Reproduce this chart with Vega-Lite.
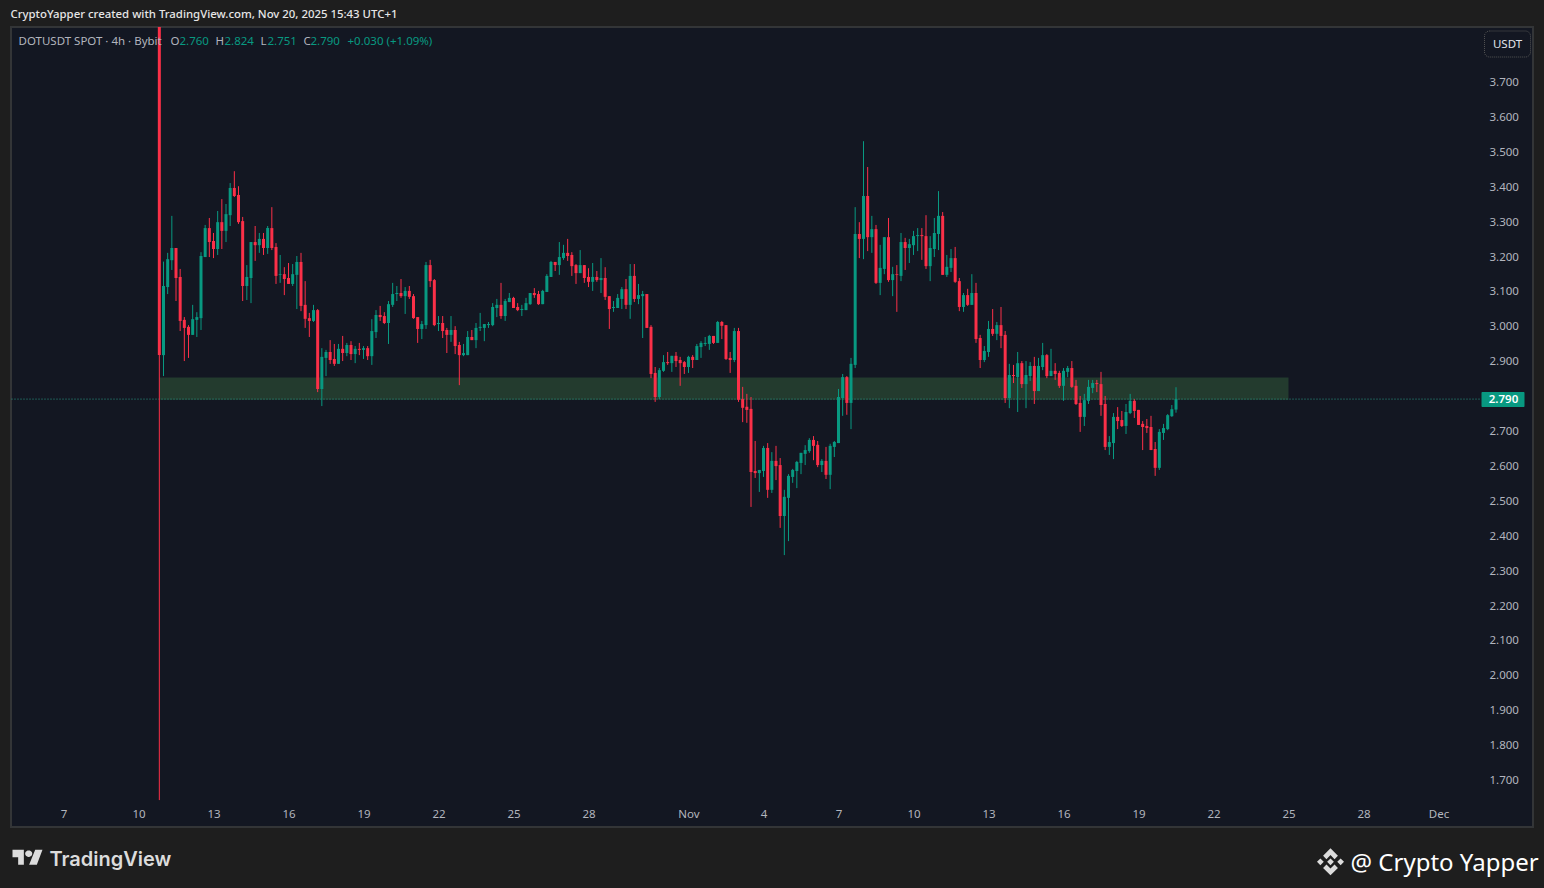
{
"$schema":"https://vega.github.io/schema/vega-lite/v6.json",
"width":1522,"height":800,
"autosize":{"type":"none"},
"padding":{"left":11,"top":27,"right":11,"bottom":61},
"background":"#1e1e1e",
"view":{"fill":"#131722","stroke":"#333537","strokeWidth":2},
"config":{"font":"Noto Sans"},
"encoding":{
"x":{"field":"t","type":"temporal","title":null,"scale":{"type":"utc","nice":false,"padding":0,"domain":["2025-10-04T21:36:00Z","2025-12-04T18:43:00Z"]},
"axis":{"values":["2025-10-07T00:00:00Z","2025-10-10T00:00:00Z","2025-10-13T00:00:00Z","2025-10-16T00:00:00Z","2025-10-19T00:00:00Z","2025-10-22T00:00:00Z","2025-10-25T00:00:00Z","2025-10-28T00:00:00Z","2025-11-01T00:00:00Z","2025-11-04T00:00:00Z","2025-11-07T00:00:00Z","2025-11-10T00:00:00Z","2025-11-13T00:00:00Z","2025-11-16T00:00:00Z","2025-11-19T00:00:00Z","2025-11-22T00:00:00Z","2025-11-25T00:00:00Z","2025-11-28T00:00:00Z","2025-12-01T00:00:00Z"],
"labelExpr":"utcdate(datum.value)==1 ? (utcmonth(datum.value)==10 ? 'Nov' : 'Dec') : ''+utcdate(datum.value)",
"grid":false,"domain":false,"ticks":false,"offset":-19,"labelPadding":0,"labelColor":"#b2b5be","labelFontSize":11.5,"labelFont":"Noto Sans","labelBaseline":"top","labelFlush":false,"labelOverlap":false,"title":null}},
"y":{"field":"p","type":"quantitative","title":null,"scale":{"nice":false,"zero":false,"domain":[1.5639,3.8562]},
"axis":{"orient":"right","values":[1.7,1.8,1.9,2.0,2.1,2.2,2.3,2.4,2.5,2.6,2.7,2.9,3.0,3.1,3.2,3.3,3.4,3.5,3.6,3.7],"format":".3f","grid":false,"domain":false,"ticks":false,"offset":-44,"labelPadding":0,"labelOffset":1,"labelColor":"#b2b5be","labelFontSize":11.5,"labelFont":"Noto Sans","labelOverlap":false,"title":null}}
},
"layer":[
{"data":{"values":[{"t":"2025-10-10T20:00:00Z","t2":"2025-11-25T00:00:00Z","p":2.852,"p2":2.788}],"format":{"parse":{"t":"date","t2":"date"}}},
"mark":{"type":"rect","fill":"#233b2e"},
"encoding":{"x2":{"field":"t2"},"y2":{"field":"p2"}}},
{"data":{"values":[{"t":"2025-10-04T22:04:48Z","t2":"2025-12-02T17:17:00Z","p":2.79}],"format":{"parse":{"t":"date","t2":"date"}}},
"mark":{"type":"rule","stroke":"#2b9a86","strokeWidth":1,"strokeDash":[1,2]},
"encoding":{"x2":{"field":"t2"}}},
{"data":{"values":[
{"t":"2025-10-10T20:00:00Z","o":3.87,"h":3.87,"l":1.641,"c":2.916},
{"t":"2025-10-11T00:00:00Z","o":2.916,"h":3.184,"l":2.856,"c":3.114},
{"t":"2025-10-11T04:00:00Z","o":3.111,"h":3.209,"l":3.091,"c":3.191},
{"t":"2025-10-11T08:00:00Z","o":3.188,"h":3.315,"l":3.16,"c":3.223},
{"t":"2025-10-11T12:00:00Z","o":3.223,"h":3.223,"l":3.071,"c":3.137},
{"t":"2025-10-11T16:00:00Z","o":3.14,"h":3.163,"l":2.985,"c":3.014},
{"t":"2025-10-11T20:00:00Z","o":3.017,"h":3.025,"l":2.899,"c":2.994},
{"t":"2025-10-12T00:00:00Z","o":2.997,"h":3.002,"l":2.908,"c":2.974},
{"t":"2025-10-12T04:00:00Z","o":2.974,"h":3.06,"l":2.974,"c":3.019},
{"t":"2025-10-12T08:00:00Z","o":3.017,"h":3.039,"l":2.968,"c":3.025},
{"t":"2025-10-12T12:00:00Z","o":3.022,"h":3.211,"l":2.988,"c":3.2},
{"t":"2025-10-12T16:00:00Z","o":3.197,"h":3.289,"l":3.197,"c":3.28},
{"t":"2025-10-12T20:00:00Z","o":3.28,"h":3.309,"l":3.197,"c":3.24},
{"t":"2025-10-13T00:00:00Z","o":3.243,"h":3.266,"l":3.194,"c":3.22},
{"t":"2025-10-13T04:00:00Z","o":3.22,"h":3.329,"l":3.203,"c":3.297},
{"t":"2025-10-13T08:00:00Z","o":3.297,"h":3.363,"l":3.22,"c":3.272},
{"t":"2025-10-13T12:00:00Z","o":3.272,"h":3.349,"l":3.24,"c":3.32},
{"t":"2025-10-13T16:00:00Z","o":3.317,"h":3.409,"l":3.286,"c":3.395},
{"t":"2025-10-13T20:00:00Z","o":3.395,"h":3.443,"l":3.369,"c":3.372},
{"t":"2025-10-14T00:00:00Z","o":3.375,"h":3.4,"l":3.292,"c":3.297},
{"t":"2025-10-14T04:00:00Z","o":3.3,"h":3.312,"l":3.071,"c":3.114},
{"t":"2025-10-14T08:00:00Z","o":3.114,"h":3.174,"l":3.074,"c":3.14},
{"t":"2025-10-14T12:00:00Z","o":3.137,"h":3.24,"l":3.065,"c":3.24},
{"t":"2025-10-14T16:00:00Z","o":3.24,"h":3.286,"l":3.186,"c":3.231},
{"t":"2025-10-14T20:00:00Z","o":3.231,"h":3.266,"l":3.209,"c":3.249},
{"t":"2025-10-15T00:00:00Z","o":3.249,"h":3.266,"l":3.203,"c":3.223},
{"t":"2025-10-15T04:00:00Z","o":3.223,"h":3.286,"l":3.206,"c":3.28},
{"t":"2025-10-15T08:00:00Z","o":3.28,"h":3.34,"l":3.217,"c":3.223},
{"t":"2025-10-15T12:00:00Z","o":3.226,"h":3.237,"l":3.12,"c":3.143},
{"t":"2025-10-15T16:00:00Z","o":3.146,"h":3.203,"l":3.123,"c":3.148},
{"t":"2025-10-15T20:00:00Z","o":3.148,"h":3.168,"l":3.088,"c":3.134},
{"t":"2025-10-16T00:00:00Z","o":3.137,"h":3.18,"l":3.12,"c":3.12},
{"t":"2025-10-16T04:00:00Z","o":3.12,"h":3.177,"l":3.114,"c":3.148},
{"t":"2025-10-16T08:00:00Z","o":3.146,"h":3.2,"l":3.048,"c":3.183},
{"t":"2025-10-16T12:00:00Z","o":3.183,"h":3.209,"l":3.042,"c":3.057},
{"t":"2025-10-16T16:00:00Z","o":3.06,"h":3.128,"l":2.994,"c":3.02},
{"t":"2025-10-16T20:00:00Z","o":3.022,"h":3.037,"l":2.968,"c":3.014},
{"t":"2025-10-17T00:00:00Z","o":3.014,"h":3.06,"l":3.011,"c":3.045},
{"t":"2025-10-17T04:00:00Z","o":3.045,"h":3.048,"l":2.81,"c":2.819},
{"t":"2025-10-17T08:00:00Z","o":2.819,"h":2.936,"l":2.77,"c":2.911},
{"t":"2025-10-17T12:00:00Z","o":2.908,"h":2.931,"l":2.856,"c":2.925},
{"t":"2025-10-17T16:00:00Z","o":2.925,"h":2.959,"l":2.891,"c":2.902},
{"t":"2025-10-17T20:00:00Z","o":2.905,"h":2.948,"l":2.885,"c":2.891},
{"t":"2025-10-18T00:00:00Z","o":2.891,"h":2.948,"l":2.891,"c":2.934},
{"t":"2025-10-18T04:00:00Z","o":2.934,"h":2.971,"l":2.899,"c":2.922},
{"t":"2025-10-18T08:00:00Z","o":2.922,"h":2.951,"l":2.913,"c":2.945},
{"t":"2025-10-18T12:00:00Z","o":2.945,"h":2.956,"l":2.902,"c":2.919},
{"t":"2025-10-18T16:00:00Z","o":2.919,"h":2.942,"l":2.893,"c":2.934},
{"t":"2025-10-18T20:00:00Z","o":2.934,"h":2.951,"l":2.916,"c":2.931},
{"t":"2025-10-19T00:00:00Z","o":2.931,"h":2.942,"l":2.905,"c":2.936},
{"t":"2025-10-19T04:00:00Z","o":2.936,"h":2.942,"l":2.902,"c":2.913},
{"t":"2025-10-19T08:00:00Z","o":2.913,"h":3.019,"l":2.888,"c":2.985},
{"t":"2025-10-19T12:00:00Z","o":2.982,"h":3.045,"l":2.965,"c":3.031},
{"t":"2025-10-19T16:00:00Z","o":3.031,"h":3.057,"l":3.014,"c":3.025},
{"t":"2025-10-19T20:00:00Z","o":3.028,"h":3.039,"l":3.005,"c":3.008},
{"t":"2025-10-20T00:00:00Z","o":3.008,"h":3.071,"l":2.948,"c":3.062},
{"t":"2025-10-20T04:00:00Z","o":3.06,"h":3.123,"l":3.054,"c":3.091},
{"t":"2025-10-20T08:00:00Z","o":3.091,"h":3.114,"l":3.071,"c":3.094},
{"t":"2025-10-20T12:00:00Z","o":3.094,"h":3.134,"l":3.08,"c":3.085},
{"t":"2025-10-20T16:00:00Z","o":3.085,"h":3.111,"l":3.034,"c":3.1},
{"t":"2025-10-20T20:00:00Z","o":3.1,"h":3.114,"l":3.077,"c":3.083},
{"t":"2025-10-21T00:00:00Z","o":3.085,"h":3.091,"l":3.02,"c":3.022},
{"t":"2025-10-21T04:00:00Z","o":3.025,"h":3.025,"l":2.951,"c":2.991},
{"t":"2025-10-21T08:00:00Z","o":2.991,"h":3.014,"l":2.962,"c":3.005},
{"t":"2025-10-21T12:00:00Z","o":3.002,"h":3.183,"l":2.991,"c":3.174},
{"t":"2025-10-21T16:00:00Z","o":3.174,"h":3.189,"l":3.111,"c":3.128},
{"t":"2025-10-21T20:00:00Z","o":3.131,"h":3.134,"l":2.999,"c":3.002},
{"t":"2025-10-22T00:00:00Z","o":3.005,"h":3.028,"l":2.985,"c":3.008},
{"t":"2025-10-22T04:00:00Z","o":3.008,"h":3.028,"l":2.965,"c":2.985},
{"t":"2025-10-22T08:00:00Z","o":2.988,"h":2.994,"l":2.922,"c":2.974},
{"t":"2025-10-22T12:00:00Z","o":2.974,"h":3.028,"l":2.954,"c":2.988},
{"t":"2025-10-22T16:00:00Z","o":2.988,"h":2.999,"l":2.919,"c":2.942},
{"t":"2025-10-22T20:00:00Z","o":2.945,"h":2.954,"l":2.83,"c":2.916},
{"t":"2025-10-23T00:00:00Z","o":2.916,"h":2.948,"l":2.913,"c":2.922},
{"t":"2025-10-23T04:00:00Z","o":2.916,"h":2.985,"l":2.916,"c":2.968},
{"t":"2025-10-23T08:00:00Z","o":2.968,"h":2.988,"l":2.959,"c":2.959},
{"t":"2025-10-23T12:00:00Z","o":2.959,"h":3.008,"l":2.936,"c":2.994},
{"t":"2025-10-23T16:00:00Z","o":2.994,"h":3.037,"l":2.985,"c":2.997},
{"t":"2025-10-23T20:00:00Z","o":2.994,"h":3.005,"l":2.956,"c":3.005},
{"t":"2025-10-24T00:00:00Z","o":3.002,"h":3.011,"l":2.994,"c":3.005},
{"t":"2025-10-24T04:00:00Z","o":3.002,"h":3.065,"l":2.999,"c":3.054},
{"t":"2025-10-24T08:00:00Z","o":3.051,"h":3.077,"l":3.025,"c":3.06},
{"t":"2025-10-24T12:00:00Z","o":3.06,"h":3.123,"l":3.02,"c":3.028},
{"t":"2025-10-24T16:00:00Z","o":3.028,"h":3.077,"l":3.014,"c":3.071},
{"t":"2025-10-24T20:00:00Z","o":3.068,"h":3.094,"l":3.068,"c":3.08},
{"t":"2025-10-25T00:00:00Z","o":3.08,"h":3.083,"l":3.051,"c":3.051},
{"t":"2025-10-25T04:00:00Z","o":3.054,"h":3.065,"l":3.042,"c":3.045},
{"t":"2025-10-25T08:00:00Z","o":3.045,"h":3.06,"l":3.028,"c":3.048},
{"t":"2025-10-25T12:00:00Z","o":3.045,"h":3.08,"l":3.045,"c":3.065},
{"t":"2025-10-25T16:00:00Z","o":3.062,"h":3.094,"l":3.06,"c":3.094},
{"t":"2025-10-25T20:00:00Z","o":3.094,"h":3.108,"l":3.08,"c":3.088},
{"t":"2025-10-26T00:00:00Z","o":3.091,"h":3.1,"l":3.06,"c":3.062},
{"t":"2025-10-26T04:00:00Z","o":3.062,"h":3.103,"l":3.062,"c":3.1},
{"t":"2025-10-26T08:00:00Z","o":3.097,"h":3.148,"l":3.097,"c":3.143},
{"t":"2025-10-26T12:00:00Z","o":3.14,"h":3.186,"l":3.14,"c":3.183},
{"t":"2025-10-26T16:00:00Z","o":3.183,"h":3.183,"l":3.157,"c":3.174},
{"t":"2025-10-26T20:00:00Z","o":3.174,"h":3.24,"l":3.146,"c":3.197},
{"t":"2025-10-27T00:00:00Z","o":3.194,"h":3.232,"l":3.189,"c":3.209},
{"t":"2025-10-27T04:00:00Z","o":3.209,"h":3.249,"l":3.186,"c":3.2},
{"t":"2025-10-27T08:00:00Z","o":3.203,"h":3.211,"l":3.143,"c":3.171},
{"t":"2025-10-27T12:00:00Z","o":3.174,"h":3.177,"l":3.12,"c":3.151},
{"t":"2025-10-27T16:00:00Z","o":3.151,"h":3.217,"l":3.151,"c":3.174},
{"t":"2025-10-27T20:00:00Z","o":3.174,"h":3.174,"l":3.123,"c":3.137},
{"t":"2025-10-28T00:00:00Z","o":3.14,"h":3.165,"l":3.111,"c":3.126},
{"t":"2025-10-28T04:00:00Z","o":3.126,"h":3.18,"l":3.1,"c":3.14},
{"t":"2025-10-28T08:00:00Z","o":3.14,"h":3.157,"l":3.126,"c":3.131},
{"t":"2025-10-28T12:00:00Z","o":3.131,"h":3.194,"l":3.094,"c":3.137},
{"t":"2025-10-28T16:00:00Z","o":3.137,"h":3.168,"l":3.074,"c":3.083},
{"t":"2025-10-28T20:00:00Z","o":3.085,"h":3.085,"l":2.991,"c":3.048},
{"t":"2025-10-29T00:00:00Z","o":3.051,"h":3.071,"l":3.04,"c":3.054},
{"t":"2025-10-29T04:00:00Z","o":3.051,"h":3.091,"l":3.051,"c":3.08},
{"t":"2025-10-29T08:00:00Z","o":3.077,"h":3.111,"l":3.048,"c":3.105},
{"t":"2025-10-29T12:00:00Z","o":3.105,"h":3.134,"l":3.048,"c":3.06},
{"t":"2025-10-29T16:00:00Z","o":3.06,"h":3.177,"l":3.02,"c":3.143},
{"t":"2025-10-29T20:00:00Z","o":3.143,"h":3.177,"l":3.068,"c":3.077},
{"t":"2025-10-30T00:00:00Z","o":3.077,"h":3.12,"l":3.062,"c":3.088},
{"t":"2025-10-30T04:00:00Z","o":3.085,"h":3.1,"l":2.965,"c":3.091},
{"t":"2025-10-30T08:00:00Z","o":3.091,"h":3.091,"l":2.994,"c":2.994},
{"t":"2025-10-30T12:00:00Z","o":2.997,"h":3.002,"l":2.85,"c":2.862},
{"t":"2025-10-30T16:00:00Z","o":2.865,"h":2.882,"l":2.782,"c":2.796},
{"t":"2025-10-30T20:00:00Z","o":2.796,"h":2.879,"l":2.79,"c":2.873},
{"t":"2025-10-31T00:00:00Z","o":2.871,"h":2.916,"l":2.868,"c":2.896},
{"t":"2025-10-31T04:00:00Z","o":2.896,"h":2.925,"l":2.888,"c":2.893},
{"t":"2025-10-31T08:00:00Z","o":2.893,"h":2.914,"l":2.868,"c":2.914},
{"t":"2025-10-31T12:00:00Z","o":2.914,"h":2.925,"l":2.882,"c":2.899},
{"t":"2025-10-31T16:00:00Z","o":2.902,"h":2.911,"l":2.828,"c":2.893},
{"t":"2025-10-31T20:00:00Z","o":2.896,"h":2.899,"l":2.862,"c":2.882},
{"t":"2025-11-01T00:00:00Z","o":2.882,"h":2.914,"l":2.865,"c":2.911},
{"t":"2025-11-01T04:00:00Z","o":2.911,"h":2.916,"l":2.879,"c":2.902},
{"t":"2025-11-01T08:00:00Z","o":2.902,"h":2.948,"l":2.902,"c":2.942},
{"t":"2025-11-01T12:00:00Z","o":2.939,"h":2.956,"l":2.908,"c":2.951},
{"t":"2025-11-01T16:00:00Z","o":2.948,"h":2.968,"l":2.942,"c":2.951},
{"t":"2025-11-01T20:00:00Z","o":2.948,"h":2.974,"l":2.931,"c":2.971},
{"t":"2025-11-02T00:00:00Z","o":2.971,"h":2.971,"l":2.948,"c":2.951},
{"t":"2025-11-02T04:00:00Z","o":2.951,"h":3.014,"l":2.951,"c":3.011},
{"t":"2025-11-02T08:00:00Z","o":3.011,"h":3.014,"l":2.962,"c":3.0},
{"t":"2025-11-02T12:00:00Z","o":3.002,"h":3.002,"l":2.902,"c":2.905},
{"t":"2025-11-02T16:00:00Z","o":2.908,"h":2.925,"l":2.865,"c":2.902},
{"t":"2025-11-02T20:00:00Z","o":2.902,"h":2.994,"l":2.896,"c":2.985},
{"t":"2025-11-03T00:00:00Z","o":2.985,"h":2.994,"l":2.782,"c":2.788},
{"t":"2025-11-03T04:00:00Z","o":2.79,"h":2.825,"l":2.724,"c":2.765},
{"t":"2025-11-03T08:00:00Z","o":2.768,"h":2.805,"l":2.722,"c":2.759},
{"t":"2025-11-03T12:00:00Z","o":2.762,"h":2.796,"l":2.481,"c":2.581},
{"t":"2025-11-03T16:00:00Z","o":2.584,"h":2.67,"l":2.564,"c":2.578},
{"t":"2025-11-03T20:00:00Z","o":2.578,"h":2.587,"l":2.524,"c":2.587},
{"t":"2025-11-04T00:00:00Z","o":2.584,"h":2.656,"l":2.567,"c":2.65},
{"t":"2025-11-04T04:00:00Z","o":2.65,"h":2.664,"l":2.507,"c":2.53},
{"t":"2025-11-04T08:00:00Z","o":2.53,"h":2.638,"l":2.521,"c":2.613},
{"t":"2025-11-04T12:00:00Z","o":2.613,"h":2.656,"l":2.558,"c":2.598},
{"t":"2025-11-04T16:00:00Z","o":2.601,"h":2.621,"l":2.421,"c":2.455},
{"t":"2025-11-04T20:00:00Z","o":2.455,"h":2.53,"l":2.343,"c":2.51},
{"t":"2025-11-05T00:00:00Z","o":2.507,"h":2.575,"l":2.383,"c":2.57},
{"t":"2025-11-05T04:00:00Z","o":2.567,"h":2.59,"l":2.55,"c":2.587},
{"t":"2025-11-05T08:00:00Z","o":2.584,"h":2.613,"l":2.535,"c":2.61},
{"t":"2025-11-05T12:00:00Z","o":2.607,"h":2.636,"l":2.575,"c":2.636},
{"t":"2025-11-05T16:00:00Z","o":2.633,"h":2.658,"l":2.601,"c":2.644},
{"t":"2025-11-05T20:00:00Z","o":2.641,"h":2.678,"l":2.636,"c":2.673},
{"t":"2025-11-06T00:00:00Z","o":2.673,"h":2.684,"l":2.615,"c":2.656},
{"t":"2025-11-06T04:00:00Z","o":2.659,"h":2.67,"l":2.595,"c":2.601},
{"t":"2025-11-06T08:00:00Z","o":2.601,"h":2.618,"l":2.581,"c":2.613},
{"t":"2025-11-06T12:00:00Z","o":2.613,"h":2.653,"l":2.561,"c":2.573},
{"t":"2025-11-06T16:00:00Z","o":2.573,"h":2.662,"l":2.532,"c":2.656},
{"t":"2025-11-06T20:00:00Z","o":2.653,"h":2.67,"l":2.624,"c":2.667},
{"t":"2025-11-07T00:00:00Z","o":2.664,"h":2.819,"l":2.664,"c":2.796},
{"t":"2025-11-07T04:00:00Z","o":2.793,"h":2.862,"l":2.742,"c":2.853},
{"t":"2025-11-07T08:00:00Z","o":2.853,"h":2.856,"l":2.745,"c":2.779},
{"t":"2025-11-07T12:00:00Z","o":2.779,"h":2.908,"l":2.704,"c":2.891},
{"t":"2025-11-07T16:00:00Z","o":2.888,"h":3.34,"l":2.879,"c":3.263},
{"t":"2025-11-07T20:00:00Z","o":3.263,"h":3.297,"l":3.194,"c":3.249},
{"t":"2025-11-08T00:00:00Z","o":3.249,"h":3.529,"l":3.191,"c":3.372},
{"t":"2025-11-08T04:00:00Z","o":3.372,"h":3.455,"l":3.214,"c":3.254},
{"t":"2025-11-08T08:00:00Z","o":3.254,"h":3.315,"l":3.209,"c":3.277},
{"t":"2025-11-08T12:00:00Z","o":3.277,"h":3.289,"l":3.12,"c":3.123},
{"t":"2025-11-08T16:00:00Z","o":3.123,"h":3.232,"l":3.088,"c":3.166},
{"t":"2025-11-08T20:00:00Z","o":3.163,"h":3.254,"l":3.148,"c":3.254},
{"t":"2025-11-09T00:00:00Z","o":3.254,"h":3.309,"l":3.126,"c":3.131},
{"t":"2025-11-09T04:00:00Z","o":3.131,"h":3.169,"l":3.085,"c":3.148},
{"t":"2025-11-09T08:00:00Z","o":3.148,"h":3.174,"l":3.04,"c":3.146},
{"t":"2025-11-09T12:00:00Z","o":3.143,"h":3.266,"l":3.128,"c":3.24},
{"t":"2025-11-09T16:00:00Z","o":3.24,"h":3.252,"l":3.16,"c":3.223},
{"t":"2025-11-09T20:00:00Z","o":3.223,"h":3.249,"l":3.18,"c":3.234},
{"t":"2025-11-10T00:00:00Z","o":3.231,"h":3.272,"l":3.203,"c":3.257},
{"t":"2025-11-10T04:00:00Z","o":3.257,"h":3.28,"l":3.214,"c":3.26},
{"t":"2025-11-10T08:00:00Z","o":3.26,"h":3.28,"l":3.189,"c":3.257},
{"t":"2025-11-10T12:00:00Z","o":3.257,"h":3.317,"l":3.163,"c":3.171},
{"t":"2025-11-10T16:00:00Z","o":3.171,"h":3.257,"l":3.128,"c":3.223},
{"t":"2025-11-10T20:00:00Z","o":3.22,"h":3.309,"l":3.197,"c":3.266},
{"t":"2025-11-11T00:00:00Z","o":3.263,"h":3.386,"l":3.217,"c":3.315},
{"t":"2025-11-11T04:00:00Z","o":3.315,"h":3.326,"l":3.146,"c":3.146},
{"t":"2025-11-11T08:00:00Z","o":3.146,"h":3.203,"l":3.14,"c":3.169},
{"t":"2025-11-11T12:00:00Z","o":3.166,"h":3.22,"l":3.154,"c":3.194},
{"t":"2025-11-11T16:00:00Z","o":3.194,"h":3.226,"l":3.123,"c":3.126},
{"t":"2025-11-11T20:00:00Z","o":3.128,"h":3.137,"l":3.042,"c":3.054},
{"t":"2025-11-12T00:00:00Z","o":3.054,"h":3.094,"l":3.04,"c":3.088},
{"t":"2025-11-12T04:00:00Z","o":3.088,"h":3.106,"l":3.057,"c":3.06},
{"t":"2025-11-12T08:00:00Z","o":3.06,"h":3.148,"l":3.06,"c":3.094},
{"t":"2025-11-12T12:00:00Z","o":3.094,"h":3.123,"l":2.951,"c":2.962},
{"t":"2025-11-12T16:00:00Z","o":2.965,"h":2.974,"l":2.879,"c":2.902},
{"t":"2025-11-12T20:00:00Z","o":2.902,"h":2.942,"l":2.896,"c":2.928},
{"t":"2025-11-13T00:00:00Z","o":2.925,"h":3.014,"l":2.911,"c":2.991},
{"t":"2025-11-13T04:00:00Z","o":2.991,"h":3.048,"l":2.971,"c":2.977},
{"t":"2025-11-13T08:00:00Z","o":2.977,"h":3.011,"l":2.959,"c":3.002},
{"t":"2025-11-13T12:00:00Z","o":3.002,"h":3.054,"l":2.936,"c":2.971},
{"t":"2025-11-13T16:00:00Z","o":2.974,"h":2.985,"l":2.779,"c":2.793},
{"t":"2025-11-13T20:00:00Z","o":2.793,"h":2.891,"l":2.764,"c":2.859},
{"t":"2025-11-14T00:00:00Z","o":2.859,"h":2.888,"l":2.836,"c":2.856},
{"t":"2025-11-14T04:00:00Z","o":2.853,"h":2.925,"l":2.753,"c":2.893},
{"t":"2025-11-14T08:00:00Z","o":2.893,"h":2.899,"l":2.822,"c":2.833},
{"t":"2025-11-14T12:00:00Z","o":2.833,"h":2.899,"l":2.764,"c":2.859},
{"t":"2025-11-14T16:00:00Z","o":2.856,"h":2.896,"l":2.842,"c":2.885},
{"t":"2025-11-14T20:00:00Z","o":2.885,"h":2.911,"l":2.776,"c":2.813},
{"t":"2025-11-15T00:00:00Z","o":2.813,"h":2.908,"l":2.813,"c":2.885},
{"t":"2025-11-15T04:00:00Z","o":2.882,"h":2.951,"l":2.873,"c":2.916},
{"t":"2025-11-15T08:00:00Z","o":2.916,"h":2.919,"l":2.85,"c":2.856},
{"t":"2025-11-15T12:00:00Z","o":2.856,"h":2.934,"l":2.856,"c":2.871},
{"t":"2025-11-15T16:00:00Z","o":2.871,"h":2.893,"l":2.845,"c":2.862},
{"t":"2025-11-15T20:00:00Z","o":2.865,"h":2.871,"l":2.822,"c":2.828},
{"t":"2025-11-16T00:00:00Z","o":2.828,"h":2.879,"l":2.785,"c":2.871},
{"t":"2025-11-16T04:00:00Z","o":2.868,"h":2.885,"l":2.853,"c":2.879},
{"t":"2025-11-16T08:00:00Z","o":2.879,"h":2.899,"l":2.822,"c":2.825},
{"t":"2025-11-16T12:00:00Z","o":2.828,"h":2.845,"l":2.773,"c":2.776},
{"t":"2025-11-16T16:00:00Z","o":2.779,"h":2.799,"l":2.696,"c":2.739},
{"t":"2025-11-16T20:00:00Z","o":2.739,"h":2.805,"l":2.713,"c":2.787},
{"t":"2025-11-17T00:00:00Z","o":2.785,"h":2.845,"l":2.776,"c":2.825},
{"t":"2025-11-17T04:00:00Z","o":2.822,"h":2.845,"l":2.807,"c":2.836},
{"t":"2025-11-17T08:00:00Z","o":2.836,"h":2.845,"l":2.81,"c":2.833},
{"t":"2025-11-17T12:00:00Z","o":2.833,"h":2.868,"l":2.742,"c":2.773},
{"t":"2025-11-17T16:00:00Z","o":2.776,"h":2.799,"l":2.644,"c":2.653},
{"t":"2025-11-17T20:00:00Z","o":2.653,"h":2.684,"l":2.63,"c":2.667},
{"t":"2025-11-18T00:00:00Z","o":2.664,"h":2.75,"l":2.618,"c":2.739},
{"t":"2025-11-18T04:00:00Z","o":2.739,"h":2.767,"l":2.704,"c":2.727},
{"t":"2025-11-18T08:00:00Z","o":2.73,"h":2.756,"l":2.71,"c":2.713},
{"t":"2025-11-18T12:00:00Z","o":2.713,"h":2.776,"l":2.69,"c":2.753},
{"t":"2025-11-18T16:00:00Z","o":2.75,"h":2.805,"l":2.747,"c":2.785},
{"t":"2025-11-18T20:00:00Z","o":2.785,"h":2.79,"l":2.736,"c":2.756},
{"t":"2025-11-19T00:00:00Z","o":2.759,"h":2.759,"l":2.716,"c":2.716},
{"t":"2025-11-19T04:00:00Z","o":2.719,"h":2.727,"l":2.644,"c":2.71},
{"t":"2025-11-19T08:00:00Z","o":2.713,"h":2.733,"l":2.693,"c":2.707},
{"t":"2025-11-19T12:00:00Z","o":2.71,"h":2.742,"l":2.644,"c":2.644},
{"t":"2025-11-19T16:00:00Z","o":2.647,"h":2.667,"l":2.57,"c":2.593},
{"t":"2025-11-19T20:00:00Z","o":2.593,"h":2.704,"l":2.587,"c":2.696},
{"t":"2025-11-20T00:00:00Z","o":2.693,"h":2.719,"l":2.673,"c":2.707},
{"t":"2025-11-20T04:00:00Z","o":2.704,"h":2.747,"l":2.701,"c":2.744},
{"t":"2025-11-20T08:00:00Z","o":2.741,"h":2.773,"l":2.739,"c":2.761},
{"t":"2025-11-20T12:00:00Z","o":2.76,"h":2.824,"l":2.751,"c":2.79}
],"format":{"parse":{"t":"date"}}},
"layer":[
{"mark":{"type":"rule","strokeWidth":1,"clip":true},
"encoding":{"y":{"field":"l","type":"quantitative","title":null,"scale":{"nice":false,"zero":false,"domain":[1.5639,3.8562]}},"y2":{"field":"h"},
"color":{"condition":{"test":"datum.c>=datum.o","value":"#089981"},"value":"#fb3048"}}},
{"mark":{"type":"bar","width":3,"clip":true},
"encoding":{"y":{"field":"o","type":"quantitative","title":null,"scale":{"nice":false,"zero":false,"domain":[1.5639,3.8562]}},"y2":{"field":"c"},
"color":{"condition":{"test":"datum.c>=datum.o","value":"#089981"},"value":"#fb3048"}}}
]},
{"data":{"values":[{"t":"2025-12-02T17:17:00Z","t2":"2025-12-04T10:34:00Z","p":2.81,"p2":2.767}],"format":{"parse":{"t":"date","t2":"date"}}},
"mark":{"type":"rect","fill":"#089981","cornerRadius":1},
"encoding":{"x2":{"field":"t2"},"y2":{"field":"p2"}}},
{"data":{"values":[{"t":"2025-12-03T14:24:00Z","p":2.786,"label":"2.790"}],"format":{"parse":{"t":"date"}}},
"mark":{"type":"text","align":"center","baseline":"middle","fontSize":11.5,"fontWeight":600,"color":"#ffffff","font":"Noto Sans"},
"encoding":{"text":{"field":"label"}}},
{"data":{"values":[{"t":"2025-12-02T20:10:00Z","t2":"2025-12-04T16:19:00Z","p":3.8447,"p2":3.7702}],"format":{"parse":{"t":"date","t2":"date"}}},
"mark":{"type":"rect","fill":"#131722","stroke":"#555555","strokeWidth":1,"strokeDash":[1,1],"cornerRadius":5},
"encoding":{"x2":{"field":"t2"},"y2":{"field":"p2"}}},
{"data":{"values":[{"t":"2025-12-03T18:14:00Z","p":3.8044,"label":"USDT"}],"format":{"parse":{"t":"date"}}},
"mark":{"type":"text","align":"center","baseline":"middle","fontSize":11.5,"color":"#e0e3eb","font":"Noto Sans"},
"encoding":{"text":{"field":"label"}}},
{"data":{"values":[
{"t":"2025-10-05T04:48:00Z","p":3.813,"label":"DOTUSDT SPOT · 4h · Bybit","kind":"name"},
{"t":"2025-10-11T06:43:00Z","p":3.813,"label":"O","kind":"name"},
{"t":"2025-10-11T15:22:00Z","p":3.813,"label":"2.760","kind":"value"},
{"t":"2025-10-13T01:55:00Z","p":3.813,"label":"H","kind":"name"},
{"t":"2025-10-13T10:34:00Z","p":3.813,"label":"2.824","kind":"value"},
{"t":"2025-10-14T21:07:00Z","p":3.813,"label":"L","kind":"name"},
{"t":"2025-10-15T03:50:00Z","p":3.813,"label":"2.751","kind":"value"},
{"t":"2025-10-16T14:24:00Z","p":3.813,"label":"C","kind":"name"},
{"t":"2025-10-16T21:07:00Z","p":3.813,"label":"2.790","kind":"value"},
{"t":"2025-10-18T08:38:00Z","p":3.813,"label":"+0.030 (+1.09%)","kind":"value"}
],"format":{"parse":{"t":"date"}}},
"mark":{"type":"text","align":"left","baseline":"middle","fontSize":11.5,"font":"Noto Sans"},
"encoding":{"text":{"field":"label"},"color":{"field":"kind","type":"nominal","legend":null,"scale":{"domain":["name","value"],"range":["#b2b5be","#089981"]}}}},
{"data":{"values":[{"t":"2025-10-04T21:07:00Z","p":3.890,"label":"CryptoYapper created with TradingView.com, Nov 20, 2025 15:43 UTC+1"}],"format":{"parse":{"t":"date"}}},
"mark":{"type":"text","align":"left","baseline":"middle","fontSize":11.4,"fontWeight":500,"color":"#e6e6e6","font":"Noto Sans"},
"encoding":{"text":{"field":"label"}}},
{"data":{"values":[{"t":"2025-10-06T10:34:00Z","p":1.47,"label":"TradingView"}],"format":{"parse":{"t":"date"}}},
"mark":{"type":"text","align":"left","baseline":"middle","fontSize":20,"fontWeight":600,"color":"#dcdcdc","font":"Inter"},
"encoding":{"text":{"field":"label"}}},
{"data":{"values":[{"t":"2025-10-05T13:26:00Z","p":1.477}],"format":{"parse":{"t":"date"}}},
"mark":{"type":"point","filled":true,"opacity":1,"fill":"#dcdcdc","stroke":null,"size":900,
"shape":"M-.243,-.5 L-1,-.5 L-1,0 L-.622,0 L-.622,.5 L-.243,.5 Z M.081,-.46 A.216,.216 0 1 1 .081,-.03 A.216,.216 0 1 1 .081,-.46 Z M.514,-.5 L1,-.5 L.622,.5 L.108,.5 Z"}},
{"data":{"values":[{"t":"2025-11-26T16:19:00Z","p":1.464}],"format":{"parse":{"t":"date"}}},
"mark":{"type":"point","filled":true,"opacity":1,"fill":"#dcdcdc","stroke":null,"size":729,
"shape":"M0,-.25 L.25,0 L0,.25 L-.25,0 Z M-1,0 L-.75,-.25 L-.5,0 L-.75,.25 Z M1,0 L.75,-.25 L.5,0 L.75,.25 Z M0,-1 L.55,-.45 L.3,-.2 L0,-.5 L-.3,-.2 L-.55,-.45 Z M0,1 L.55,.45 L.3,.2 L0,.5 L-.3,.2 L-.55,.45 Z"}},
{"data":{"values":[{"t":"2025-11-27T11:31:00Z","p":1.458,"label":"@ Crypto Yapper"}],"format":{"parse":{"t":"date"}}},
"mark":{"type":"text","align":"left","baseline":"middle","fontSize":24,"color":"#ffffff","font":"Noto Sans"},
"encoding":{"text":{"field":"label"}}}
]
}
